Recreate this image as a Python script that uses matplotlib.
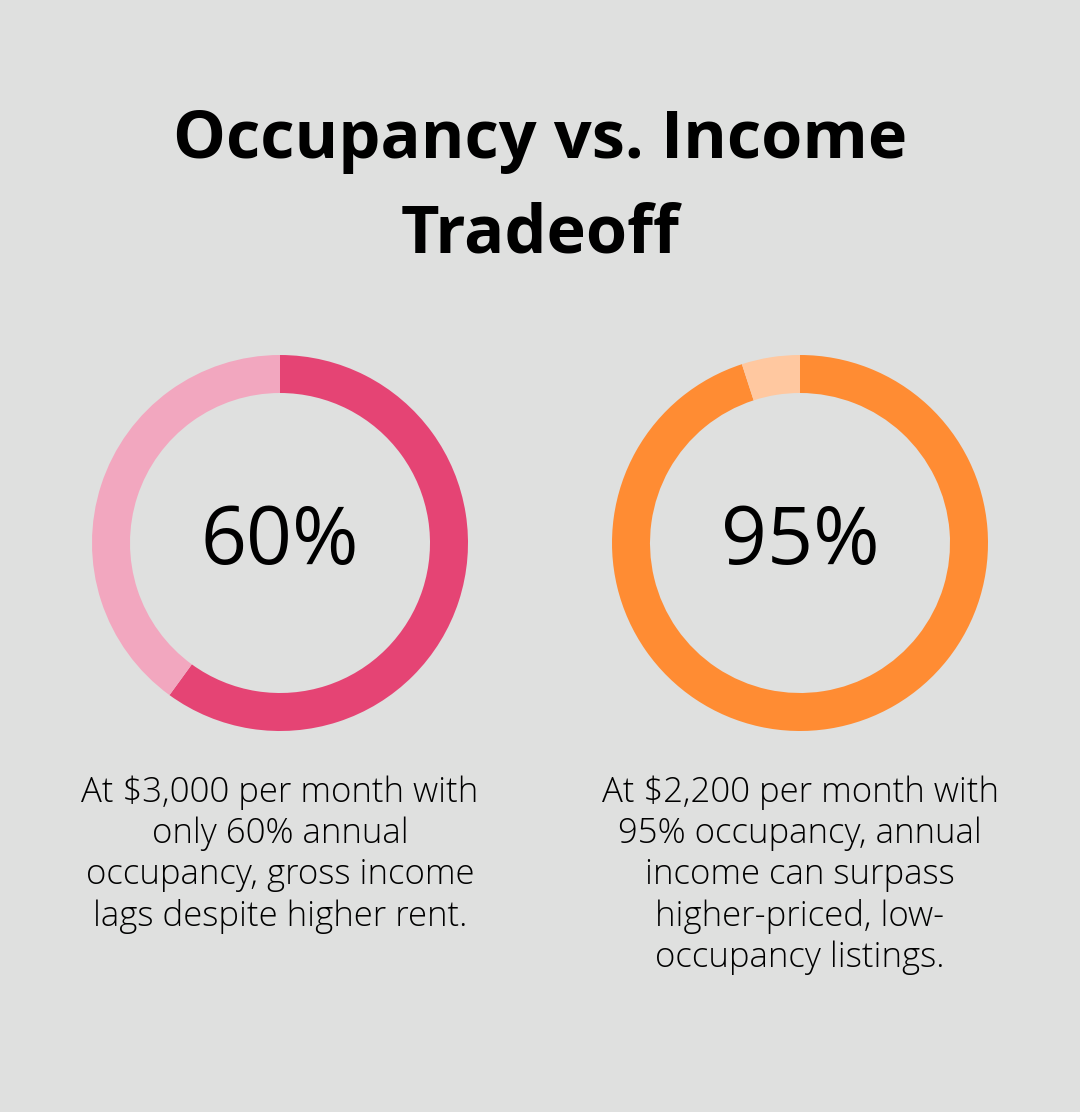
import matplotlib
matplotlib.use("Agg")
import matplotlib.pyplot as plt

BG = "#dfe0df"

labels = ["60%", "95%"]
values = [60, 95]
colors = [("#e54474", "#f2a7bf"), ("#ff8c33", "#ffc8a0")]
captions = [
    "At $3,000 per month with\nonly 60% annual\noccupancy, gross income\nlags despite higher rent.",
    "At $2,200 per month with\n95% occupancy, annual\nincome can surpass\nhigher-priced, low-\noccupancy listings.",
]
centers_x = [280, 800]

fig = plt.figure(figsize=(10.8, 11.12), dpi=100, facecolor=BG)
ax = fig.add_axes([0, 0, 1, 1])
ax.set_facecolor(BG)
H = 1112

fig.text(0.5, 1 - 140 / H, "Occupancy vs. Income", ha="center", va="center",
         fontsize=48, fontweight="bold", family="Open Sans")
fig.text(0.5, 1 - 235 / H, "Tradeoff", ha="center", va="center",
         fontsize=48, fontweight="bold", family="Open Sans")

for cx, lab, val, (c1, c2), cap in zip(centers_x, labels, values, colors, captions):
    ax.pie([val, 100 - val], colors=[c1, c2], center=(cx, H - 543), radius=188,
           startangle=90, counterclock=False,
           wedgeprops=dict(width=38, linewidth=0))
    ax.text(cx, H - 543, lab, ha="center", va="center", fontsize=58,
            family="Open Sans")
    ax.text(cx, H - 775, cap, ha="center", va="top", fontsize=25,
            family="Open Sans", fontweight="light", linespacing=1.25)

ax.set_xlim(0, 1080)
ax.set_ylim(0, H)
ax.set_aspect("equal")
ax.axis("off")
fig.savefig("out.png", dpi=100, facecolor=BG)
